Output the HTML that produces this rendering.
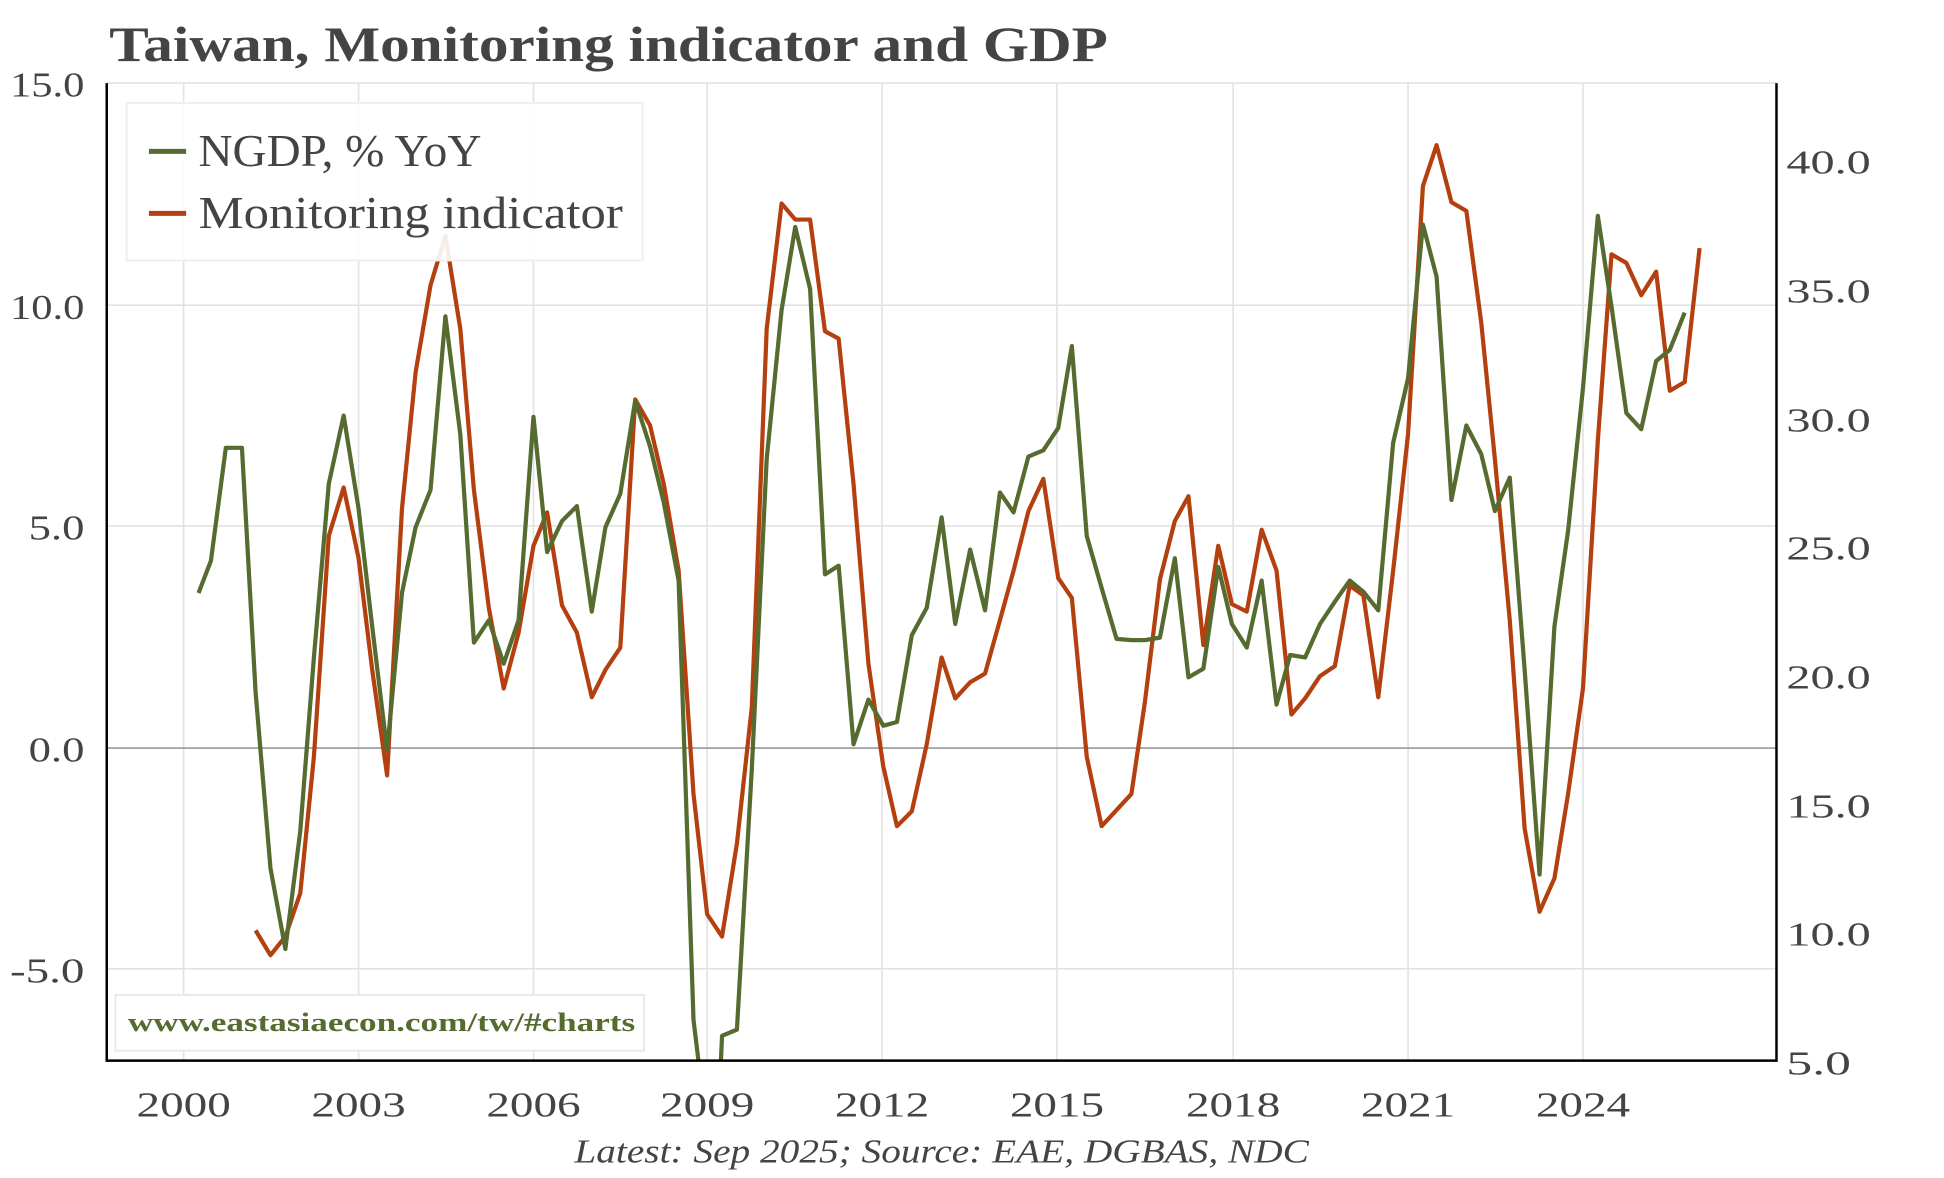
<!DOCTYPE html>
<html><head><meta charset="utf-8"><style>
html,body{margin:0;padding:0;background:#fff;}
svg{display:block;}
text{font-family:"Liberation Serif","DejaVu Serif",serif;fill:#444;}
</style></head><body>
<svg width="1944" height="1178" viewBox="0 0 1567 949.6" xmlns="http://www.w3.org/2000/svg">
<rect width="1567" height="950" fill="#fff"/>
<text x="88" y="49" font-size="40" font-weight="bold" textLength="805" lengthAdjust="spacingAndGlyphs">Taiwan, Monitoring indicator and GDP</text>
<g stroke="#e2e2e2" stroke-width="1.3">
<line x1="86" y1="67" x2="1432" y2="67"/>
<line x1="86" y1="246" x2="1432" y2="246"/>
<line x1="86" y1="424" x2="1432" y2="424"/>
<line x1="86" y1="781" x2="1432" y2="781"/>
<line x1="148" y1="67" x2="148" y2="855"/><line x1="289" y1="67" x2="289" y2="855"/>
<line x1="430" y1="67" x2="430" y2="855"/><line x1="570" y1="67" x2="570" y2="855"/>
<line x1="711" y1="67" x2="711" y2="855"/><line x1="852" y1="67" x2="852" y2="855"/>
<line x1="994" y1="67" x2="994" y2="855"/><line x1="1135" y1="67" x2="1135" y2="855"/>
<line x1="1276" y1="67" x2="1276" y2="855"/>
</g>
<line x1="86" y1="603" x2="1432" y2="603" stroke="#999" stroke-width="1.3"/>
<polyline fill="none" stroke="#b5400f" stroke-width="3.4" stroke-linejoin="round" points="206,750 218,770 230,755 242,720 253,610 265,432 277,393 289,450 300,540 312,625 324,410 335,300 347,230 359,190 371,265 382,395 394,490 406,555 418,510 430,440 441,413 453,488 465,510 477,562 488,540 500,522 512,322 524,343 535,390 547,460 559,640 570,737 582,755 594,680 606,570 618,265 630,164 641,177 653,177 665,267 676,273 688,390 700,535 712,618 723,666 735,654 747,600 759,530 770,563 782,550 794,543 806,500 817,460 829,412 841,386 853,466 864,482 876,610 888,666 900,653 912,640 923,565 935,467 947,420 958,400 970,520 982,440 993,487 1005,493 1017,427 1029,460 1041,576 1052,563 1064,545 1076,537 1088,472 1099,480 1111,562 1123,460 1135,350 1147,150 1158,117 1170,163 1182,170 1194,260 1205,370 1217,500 1229,668 1241,735 1253,708 1264,640 1276,555 1288,355 1299,205 1311,212 1323,238 1335,219 1346,315 1358,308 1370,200"/>
<clipPath id="c"><rect x="86" y="60" width="1346" height="795"/></clipPath>
<polyline clip-path="url(#c)" fill="none" stroke="#556b2f" stroke-width="3.4" stroke-linejoin="round" points="160,478 170,452 182,361 195,361 206,558 218,700 230,765 242,670 253,530 265,390 277,335 289,410 300,505 312,605 324,478 335,425 347,395 359,255 371,350 382,518 394,500 406,535 418,500 430,336 441,445 453,420 465,408 477,493 488,425 500,398 512,323 524,360 535,405 547,468 559,822 566,880 580,880 582,835 594,830 606,620 618,370 630,250 641,183 653,233 665,463 676,456 688,600 700,564 712,585 723,582 735,512 747,490 759,417 770,503 782,443 794,492 806,397 817,413 829,368 841,363 853,345 864,279 876,432 888,474 900,515 912,516 923,516 935,514 947,450 958,546 970,539 982,457 993,503 1005,522 1017,468 1029,568 1040,528 1052,530 1064,503 1076,485 1088,468 1099,477 1111,492 1123,357 1135,305 1147,181 1158,223 1170,403 1182,343 1194,366 1205,412 1217,385 1229,540 1241,705 1253,505 1264,428 1276,313 1288,174 1299,247 1311,333 1323,346 1335,291 1346,282 1358,252"/>
<g stroke="#000" stroke-width="2">
<line x1="86" y1="67" x2="86" y2="856"/>
<line x1="1432" y1="67" x2="1432" y2="856"/>
<line x1="86" y1="855" x2="1432" y2="855"/>
</g>
<g id="ticks" stroke="#000" stroke-width="1.5"></g>
<rect x="102" y="83" width="416" height="127" fill="#fff" fill-opacity="0.9" stroke="#eee" stroke-width="1.5"/>
<line x1="120" y1="122" x2="150" y2="122" stroke="#556b2f" stroke-width="4"/>
<line x1="120" y1="172" x2="150" y2="172" stroke="#b5400f" stroke-width="4"/>
<text x="160" y="134" font-size="37" textLength="228" lengthAdjust="spacingAndGlyphs">NGDP, % YoY</text>
<text x="160" y="184" font-size="37" textLength="342" lengthAdjust="spacingAndGlyphs">Monitoring indicator</text>
<rect x="93" y="802" width="426" height="45" fill="#fff" stroke="#e8e8e8" stroke-width="1.5"/>
<text x="103" y="831" font-size="21" font-weight="bold" style="fill:#556b2f" textLength="409" lengthAdjust="spacingAndGlyphs">www.eastasiaecon.com/tw/#charts</text>
<g font-size="28" text-anchor="end">
<text x="68" y="78" textLength="60" lengthAdjust="spacingAndGlyphs">15.0</text>
<text x="68" y="257" textLength="60" lengthAdjust="spacingAndGlyphs">10.0</text>
<text x="68" y="435" textLength="45" lengthAdjust="spacingAndGlyphs">5.0</text>
<text x="68" y="614" textLength="45" lengthAdjust="spacingAndGlyphs">0.0</text>
<text x="68" y="792" textLength="60" lengthAdjust="spacingAndGlyphs">-5.0</text>
</g>
<g font-size="27" text-anchor="start">
<text x="1440" y="140" textLength="68" lengthAdjust="spacingAndGlyphs">40.0</text>
<text x="1440" y="244" textLength="68" lengthAdjust="spacingAndGlyphs">35.0</text>
<text x="1440" y="348" textLength="68" lengthAdjust="spacingAndGlyphs">30.0</text>
<text x="1440" y="451" textLength="68" lengthAdjust="spacingAndGlyphs">25.0</text>
<text x="1440" y="555" textLength="68" lengthAdjust="spacingAndGlyphs">20.0</text>
<text x="1440" y="659" textLength="68" lengthAdjust="spacingAndGlyphs">15.0</text>
<text x="1440" y="762" textLength="68" lengthAdjust="spacingAndGlyphs">10.0</text>
<text x="1440" y="866" textLength="52" lengthAdjust="spacingAndGlyphs">5.0</text>
</g>
<g font-size="28" text-anchor="middle">
<text x="148" y="900" textLength="76" lengthAdjust="spacingAndGlyphs">2000</text>
<text x="289" y="900" textLength="76" lengthAdjust="spacingAndGlyphs">2003</text>
<text x="430" y="900" textLength="76" lengthAdjust="spacingAndGlyphs">2006</text>
<text x="570" y="900" textLength="76" lengthAdjust="spacingAndGlyphs">2009</text>
<text x="711" y="900" textLength="76" lengthAdjust="spacingAndGlyphs">2012</text>
<text x="852" y="900" textLength="76" lengthAdjust="spacingAndGlyphs">2015</text>
<text x="994" y="900" textLength="76" lengthAdjust="spacingAndGlyphs">2018</text>
<text x="1135" y="900" textLength="76" lengthAdjust="spacingAndGlyphs">2021</text>
<text x="1276" y="900" textLength="76" lengthAdjust="spacingAndGlyphs">2024</text>
</g>
<text x="759" y="937" font-size="27" font-style="italic" text-anchor="middle" textLength="592" lengthAdjust="spacingAndGlyphs">Latest: Sep 2025; Source: EAE, DGBAS, NDC</text>
<script>
var g=document.getElementById('ticks'),s='';
for(var v=-7;v<=15;v++){var y=603-v*35.7;if(y<66)continue;var L=(v%5==0)?8:5;s+='<line x1="'+(86-L)+'" y1="'+y+'" x2="86" y2="'+y+'"/>';}
for(var v=5;v<=43;v++){var y=856-(v-5)*20.74;var L=(v%5==0)?8:6;s+='<line x1="1432" y1="'+y+'" x2="'+(1432+L)+'" y2="'+y+'"/>';}
for(var yr=1999;yr<=2027;yr++){var x=148+(yr-2000)*46.95;if(x<86||x>1432)continue;var L=((yr-2000)%3==0)?16:8;s+='<line x1="'+x+'" y1="855" x2="'+x+'" y2="'+(855+L)+'"/>';}
g.innerHTML=s;
</script>
</svg>
</body></html>
